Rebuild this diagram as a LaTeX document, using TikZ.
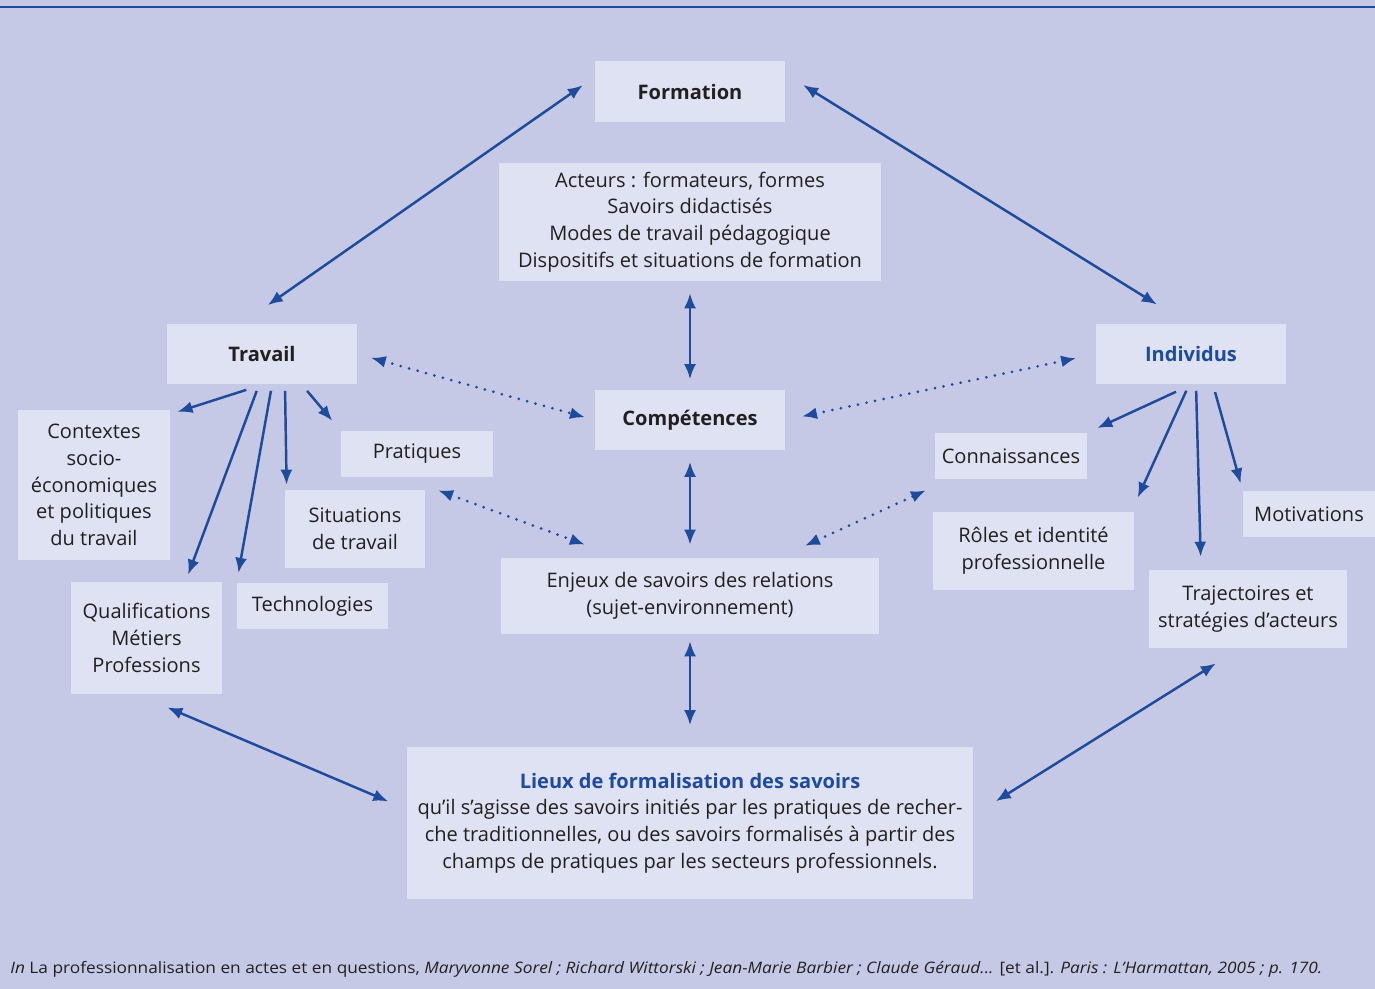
\documentclass[tikz,border=0pt]{standalone}
\usepackage{fontspec}
\setmainfont{Open Sans}
\usepackage{graphicx}
\usetikzlibrary{arrows.meta}

\definecolor{fondlav}{RGB}{197,201,229}
\definecolor{fondboite}{RGB}{223,226,242}
\definecolor{bleuf}{RGB}{30,75,155}
\definecolor{gristexte}{RGB}{35,31,32}

\tikzset{
  cadre/.style={fill=fondboite, text=gristexte, inner sep=0pt, align=center, font=\fontsize{11.4}{15.2}\selectfont},
  fleche/.style={bleuf, line width=1.4pt, -{Latex[length=3mm, width=2.4mm]}},
  doublefleche/.style={bleuf, line width=1.4pt, {Latex[length=3mm, width=2.4mm]}-{Latex[length=3mm, width=2.4mm]}},
  pointille/.style={doublefleche, line width=1.7pt, line cap=round, dash pattern=on 0pt off 1.75mm}
}

\begin{document}
\begin{tikzpicture}[x=0.02cm, y=-0.02cm]
  \fill [fondlav] (0,0) rectangle (1375,989); % fond
  \useasboundingbox (0,0) rectangle (1375,989);
  \draw [bleuf, line width=0.04cm] (0,7) -- (1375,7); % filet du haut

  % pole formation
  \node [cadre, minimum width=3.8cm, minimum height=1.22cm] (formation) at (690,92) {\bfseries Formation};
  \node [cadre, minimum width=7.66cm, minimum height=2.36cm] (acteurs) at (690,222) {Acteurs : formateurs, formes\\Savoirs didactisés\\Modes de travail pédagogique\\Dispositifs et situations de formation};
  \node [cadre, minimum width=3.8cm, minimum height=1.22cm] (competences) at (690,420) {\bfseries Compétences};
  \node [cadre, minimum width=7.58cm, minimum height=1.52cm] (enjeux) at (690,596) {Enjeux de savoirs des relations\\(sujet-environnement)};
  \node [cadre, minimum width=11.34cm, minimum height=3.06cm] (lieux) at (690,823) {{\bfseries\color{bleuf}Lieux de formalisation des savoirs}\\qu’il s’agisse des savoirs initiés par les pratiques de recher-\\che traditionnelles, ou des savoirs formalisés à partir des\\champs de pratiques par les secteurs professionnels.};

  % pole travail
  \node [cadre, minimum width=3.8cm, minimum height=1.22cm] (travail) at (262,354) {\bfseries Travail};
  \node [cadre, minimum width=3.04cm, minimum height=3.02cm] (contextes) at (94,485) {Contextes\\socio-\\économiques\\et politiques\\du travail};
  \node [cadre, minimum width=3.04cm, minimum height=0.92cm] (pratiques) at (417,454) {Pratiques};
  \node [cadre, minimum width=2.8cm, minimum height=1.56cm] (situations) at (355,529) {Situations\\de travail};
  \node [cadre, minimum width=3.02cm, minimum height=2.24cm] (qualifications) at (146.5,638) {Qualifications\\Métiers\\Professions};
  \node [cadre, minimum width=3.02cm, minimum height=0.92cm] (technologies) at (312.5,606) {Technologies};

  % pole individus
  \node [cadre, minimum width=3.8cm, minimum height=1.22cm] (individus) at (1191,354) {\bfseries\color{bleuf}Individus};
  \node [cadre, minimum width=3.04cm, minimum height=0.92cm] (connaissances) at (1011,456) {Connaissances};
  \node [cadre, minimum width=4.02cm, minimum height=1.56cm] (roles) at (1033.5,551) {Rôles et identité\\professionnelle};
  \node [cadre, minimum width=2.64cm, minimum height=0.92cm] (motivations) at (1309,514) {Motivations};
  \node [cadre, minimum width=3.96cm, minimum height=1.56cm] (trajectoires) at (1248,609) {Trajectoires et\\stratégies d’acteurs};

  % source
  \node [anchor=west, inner sep=0pt, text=gristexte, font=\fontsize{9}{11}\selectfont] (source) at (10,969) {\resizebox{26.24cm}{\height}{\textit{In} La professionnalisation en actes et en questions, \textit{Maryvonne Sorel ; Richard Wittorski ; Jean-Marie Barbier ; Claude Géraud...} [et al.]. \textit{Paris : L’Harmattan, 2005 ; p. 170.}}};

  % grandes fleches
  \draw [doublefleche, shorten <=0.29cm, shorten >=0.63cm] ([yshift=0.3cm]formation.west) -- ([xshift=-0.4cm]travail.north);
  \draw [doublefleche, shorten <=0.42cm, shorten >=0.71cm] ([yshift=0.36cm]formation.east) -- ([xshift=-0.08cm]individus.north);
  \draw [doublefleche, shorten <=0.24cm, shorten >=0.2cm] (acteurs) -- (competences);
  \draw [doublefleche, shorten <=0.22cm, shorten >=0.26cm] (competences) -- (enjeux);
  \draw [doublefleche, shorten <=0.14cm, shorten >=0.42cm] (enjeux) -- (lieux);
  \draw [doublefleche, shorten <=0.67cm, shorten >=0.39cm] ([xshift=-0.2cm]qualifications.south) -- ([yshift=0.28cm]lieux.west);
  \draw [doublefleche, shorten <=0.57cm, shorten >=0.52cm] ([xshift=-0.16cm]trajectoires.south) -- ([yshift=0.16cm]lieux.east);

  % pointilles
  \draw [pointille, shorten <=0.28cm, shorten >=0.2cm] (travail.east) -- (competences.west);
  \draw [pointille, shorten <=0.34cm, shorten >=0.4cm] (competences.east) -- (individus.west);
  \draw [pointille, shorten <=0.75cm, shorten >=0.75cm] ([xshift=-0.28cm]pratiques.south) -- ([xshift=-1.4cm]enjeux.north);
  \draw [pointille, shorten <=0.57cm, shorten >=0.53cm] ([xshift=1.78cm]enjeux.north) -- ([xshift=-1.22cm]connaissances.south);

  % travail -> composantes
  \draw [fleche, shorten <=0.33cm, shorten >=0.15cm] (travail.south) -- ([yshift=-0.1cm]contextes.north east);
  \draw [fleche, shorten <=0.13cm, shorten >=0.15cm] ([xshift=-0.06cm]travail.south) -- ([xshift=0.78cm]qualifications.north);
  \draw [fleche, shorten <=0.12cm, shorten >=0.2cm] ([xshift=0.2cm]travail.south) -- (technologies.north west);
  \draw [fleche, shorten <=0.12cm, shorten >=0.1cm] ([xshift=0.46cm]travail.south) -- ([xshift=0.04cm]situations.north west);
  \draw [fleche, shorten <=0.16cm, shorten >=0.26cm] ([xshift=0.8cm]travail.south) -- (pratiques.north west);

  % individus -> composantes
  \draw [fleche, shorten <=0.33cm, shorten >=0.22cm] (individus.south) -- (connaissances.north east);
  \draw [fleche, shorten <=0.13cm, shorten >=0.31cm] ([xshift=-0.04cm]individus.south) -- ([xshift=-0.06cm]roles.north east);
  \draw [fleche, shorten <=0.12cm, shorten >=0.26cm] ([xshift=0.1cm]individus.south) -- ([xshift=-0.94cm]trajectoires.north);
  \draw [fleche, shorten <=0.15cm, shorten >=0.15cm] ([xshift=0.44cm]individus.south) -- (motivations.north west);
\end{tikzpicture}
\end{document}
